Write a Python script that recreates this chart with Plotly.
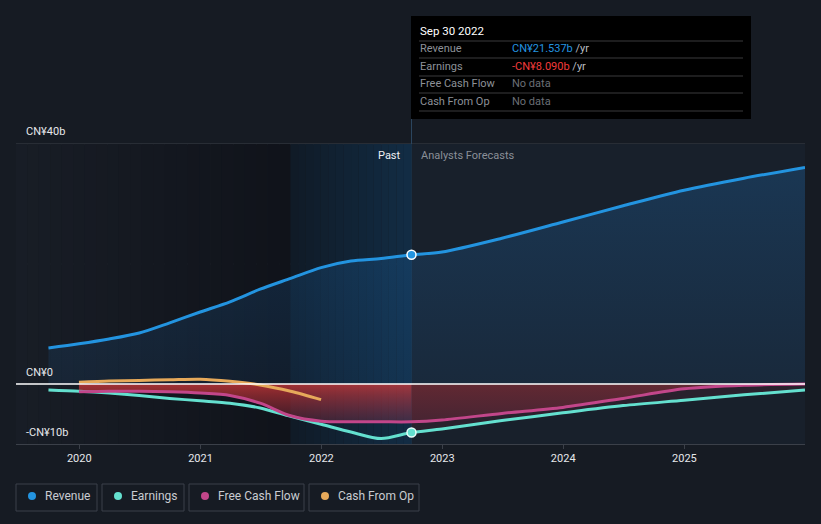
import plotly.graph_objects as go
import pandas as pd

# ---------------- data (CN¥ billions) ----------------
past_dates = ["2019-09-30", "2019-12-31", "2020-03-31", "2020-06-30", "2020-09-30",
              "2020-12-31", "2021-03-31", "2021-06-30", "2021-09-30", "2021-12-31",
              "2022-03-31", "2022-06-30", "2022-09-30"]
fc_dates = ["2022-09-30", "2022-12-31", "2023-06-30", "2023-12-31", "2024-06-30",
            "2024-12-31", "2025-06-30", "2025-12-31"]

revenue_past = [6.0, 6.7, 7.5, 8.5, 10.2, 12.0, 13.7, 15.8, 17.6, 19.4, 20.5, 20.9, 21.537]
revenue_fc = [21.537, 22.0, 24.3, 27.0, 29.7, 32.3, 34.3, 36.1]

earnings_past = [-1.0, -1.2, -1.5, -1.9, -2.4, -2.8, -3.2, -4.0, -5.4, -6.7, -8.0, -9.1, -8.09]
earnings_fc = [-8.09, -7.5, -6.1, -4.8, -3.6, -2.7, -1.8, -1.0]

fcf_past_dates = past_dates[1:]
fcf_past = [-1.3, -1.2, -1.2, -1.3, -1.5, -1.9, -3.2, -5.3, -6.2, -6.3, -6.3, -6.3]
fcf_fc = [-6.3, -6.0, -4.9, -3.9, -2.4, -0.8, -0.2, 0.0]

cfo_dates = past_dates[1:10]
cfo_vals = [0.3, 0.5, 0.6, 0.7, 0.8, 0.45, -0.15, -1.2, -2.6]

year_ticks = ["2020-01-01", "2021-01-01", "2022-01-01", "2023-01-01", "2024-01-01", "2025-01-01"]
year_labels = ["2020", "2021", "2022", "2023", "2024", "2025"]

tooltip_date = "Sep 30 2022"
tooltip_rows = [("Revenue", "CN¥21.537b", "#2394e0"),
                ("Earnings", "-CN¥8.090b", "#f23b3b"),
                ("Free Cash Flow", None, None),
                ("Cash From Op", None, None)]
legend_items = [("Revenue", "#2394e0"), ("Earnings", "#64e0cf"),
                ("Free Cash Flow", "#c2468a"), ("Cash From Op", "#e6a95a")]

C_REV, C_EARN, C_FCF, C_CFO = "#2394e0", "#64e0cf", "#c2468a", "#e6a95a"
FONT = "Roboto, 'Noto Sans', sans-serif"

W, H = 821, 524
ML, MR, MT, MB = 16, 16, 0, 80
PW, PH = W - ML - MR, H - MT - MB


def X(px):
    return (px - ML) / PW


def Y(py):
    return (H - MB - py) / PH


X_START, X_END = "2019-06-24", "2025-12-31"
PAST_SPLIT = "2021-09-30"
NOW = "2022-09-30"
SPL = dict(shape="spline", smoothing=0.8)

fig = go.Figure()

# revenue area fill
fig.add_trace(go.Scatter(
    x=past_dates + fc_dates[1:], y=revenue_past + revenue_fc[1:],
    mode="lines", line=dict(width=0, **SPL),
    fill="tozeroy",
    fillgradient=dict(type="vertical", start=0, stop=36,
                      colorscale=[[0, "rgba(33,125,210,0.10)"], [1, "rgba(33,135,225,0.22)"]]),
    hoverinfo="skip", showlegend=False))

# earnings fill (forecast only, faint red)
fig.add_trace(go.Scatter(
    x=fc_dates, y=earnings_fc,
    mode="lines", line=dict(width=0, **SPL),
    fill="tozeroy", fillcolor="rgba(200,50,70,0.10)",
    hoverinfo="skip", showlegend=False))

# FCF fill past (stronger, vertical gradient) and forecast
fig.add_trace(go.Scatter(
    x=fcf_past_dates, y=fcf_past,
    mode="lines", line=dict(width=0, **SPL),
    fill="tozeroy",
    fillgradient=dict(type="vertical", start=-6.3, stop=0,
                      colorscale=[[0, "rgba(190,50,75,0.25)"], [0.7, "rgba(215,55,60,0.55)"],
                                  [1, "rgba(225,60,60,0.70)"]]),
    hoverinfo="skip", showlegend=False))
fig.add_trace(go.Scatter(
    x=fc_dates, y=fcf_fc,
    mode="lines", line=dict(width=0, **SPL),
    fill="tozeroy",
    fillgradient=dict(type="vertical", start=-6.3, stop=0,
                      colorscale=[[0, "rgba(190,50,70,0.20)"], [1, "rgba(205,55,60,0.35)"]]),
    hoverinfo="skip", showlegend=False))

# lines
fig.add_trace(go.Scatter(
    x=past_dates + fc_dates[1:], y=revenue_past + revenue_fc[1:],
    mode="lines", line=dict(color=C_REV, width=3, **SPL),
    hoverinfo="skip", showlegend=False))
fig.add_trace(go.Scatter(
    x=past_dates + fc_dates[1:], y=earnings_past + earnings_fc[1:],
    mode="lines", line=dict(color=C_EARN, width=3, **SPL),
    hoverinfo="skip", showlegend=False))
fig.add_trace(go.Scatter(
    x=fcf_past_dates + fc_dates[1:], y=fcf_past + fcf_fc[1:],
    mode="lines", line=dict(color=C_FCF, width=3, **SPL),
    hoverinfo="skip", showlegend=False))
fig.add_trace(go.Scatter(
    x=cfo_dates, y=cfo_vals,
    mode="lines", line=dict(color=C_CFO, width=3, **SPL),
    hoverinfo="skip", showlegend=False))

# highlighted points
fig.add_trace(go.Scatter(
    x=[NOW], y=[revenue_past[-1]], mode="markers",
    marker=dict(size=9, color=C_REV, line=dict(color="#ffffff", width=1.5)),
    hoverinfo="skip", showlegend=False))
fig.add_trace(go.Scatter(
    x=[NOW], y=[earnings_past[-1]], mode="markers",
    marker=dict(size=9, color=C_EARN, line=dict(color="#e8fffb", width=1.5)),
    hoverinfo="skip", showlegend=False))

shapes = []
# forecast background
shapes.append(dict(type="rect", xref="x", yref="y", x0=NOW, x1=X_END, y0=-10, y1=40,
                   fillcolor="#18202b", line_width=0, layer="below"))


def lerp(c0, c1, t):
    return tuple(round(a + (b - a) * t) for a, b in zip(c0, c1))


# past dark gradient (stepped)
p0, p1 = pd.Timestamp(X_START), pd.Timestamp(PAST_SPLIT)
N = 24
for i in range(N):
    a = p0 + (p1 - p0) * i / N
    b = p0 + (p1 - p0) * (i + 1) / N
    c = lerp((24, 29, 38), (16, 19, 26), i / (N - 1))
    shapes.append(dict(type="rect", xref="x", yref="y", x0=a, x1=b, y0=-10, y1=40,
                       fillcolor="rgb(%d,%d,%d)" % c, line_width=0, layer="below"))
# highlight band (past year)
q0, q1 = pd.Timestamp(PAST_SPLIT), pd.Timestamp(NOW)
N = 16
for i in range(N):
    a = q0 + (q1 - q0) * i / N
    b = q0 + (q1 - q0) * (i + 1) / N
    c = lerp((16, 27, 39), (18, 44, 68), i / (N - 1))
    shapes.append(dict(type="rect", xref="x", yref="y", x0=a, x1=b, y0=-10, y1=40,
                       fillcolor="rgb(%d,%d,%d)" % c, line_width=0, layer="below"))

# grid lines
shapes.append(dict(type="line", xref="paper", yref="y", x0=0, x1=1, y0=40, y1=40,
                   line=dict(color="#3b4049", width=1), layer="below"))
shapes.append(dict(type="line", xref="paper", yref="y", x0=0, x1=1, y0=20, y1=20,
                   line=dict(color="#2f343d", width=1), layer="below"))
# zero line
shapes.append(dict(type="line", xref="paper", yref="y", x0=0, x1=1, y0=0, y1=0,
                   line=dict(color="#ffffff", width=1.5), layer="above"))

# vertical "now" line
shapes.append(dict(type="line", xref="x", yref="paper", x0=NOW, x1=NOW, y0=0, y1=Y(16),
                   line=dict(color="#2c4660", width=1), layer="below"))

# tooltip box
shapes.append(dict(type="rect", xref="paper", yref="paper", x0=X(411), x1=X(751), y0=Y(119), y1=Y(16),
                   fillcolor="#000000", line_width=0, layer="above"))
for py in [41, 58, 76, 93, 111]:
    shapes.append(dict(type="line", xref="paper", yref="paper", x0=X(419), x1=X(743), y0=Y(py), y1=Y(py),
                       line=dict(color="#3a3b3d", width=1), layer="above"))

# legend boxes
legend_boxes = [(16, 97), (102, 184), (189, 304), (309, 419)]
for (x0, x1), (name, col) in zip(legend_boxes, legend_items):
    shapes.append(dict(type="rect", xref="paper", yref="paper", x0=X(x0), x1=X(x1), y0=Y(511), y1=Y(484),
                       fillcolor="rgba(0,0,0,0)", line=dict(color="#3a404a", width=1)))
    shapes.append(dict(type="circle", xref="paper", yref="paper", x0=X(x0 + 12), x1=X(x0 + 20),
                       y0=Y(500), y1=Y(492), fillcolor=col, line_width=0))

annotations = []
# y labels
for txt, py in [("CN¥40b", 132), ("CN¥0", 372), ("-CN¥10b", 432)]:
    annotations.append(dict(xref="paper", yref="paper", x=X(24), y=Y(py), text=txt, showarrow=False,
                            xanchor="left", yanchor="middle", font=dict(family=FONT, size=11, color="#e6e8eb")))
annotations.append(dict(xref="paper", yref="paper", x=X(403), y=Y(156), text="Past", showarrow=False,
                        xanchor="right", yanchor="middle", font=dict(family=FONT, size=11, color="#eef0f2")))
annotations.append(dict(xref="paper", yref="paper", x=X(419), y=Y(156), text="Analysts Forecasts", showarrow=False,
                        xanchor="left", yanchor="middle", font=dict(family=FONT, size=11, color="#8a8f98")))
# tooltip text
annotations.append(dict(xref="paper", yref="paper", x=X(418), y=Y(31), text=tooltip_date, showarrow=False,
                        xanchor="left", yanchor="middle", font=dict(family=FONT, size=11.5, color="#ffffff")))
for (label, val, col), py in zip(tooltip_rows, [49, 66, 84, 101]):
    annotations.append(dict(xref="paper", yref="paper", x=X(418), y=Y(py), text=label, showarrow=False,
                            xanchor="left", yanchor="middle", font=dict(family=FONT, size=11, color="#8d9198")))
    if val is None:
        t = "No data"
        fc = "#6b6f76"
    else:
        t = "<span style='color:%s'>%s</span> /yr" % (col, val)
        fc = "#b9bcc1"
    annotations.append(dict(xref="paper", yref="paper", x=X(510), y=Y(py), text=t, showarrow=False,
                            xanchor="left", yanchor="middle", font=dict(family=FONT, size=11, color=fc)))
# legend text
for (x0, x1), (name, col) in zip(legend_boxes, legend_items):
    annotations.append(dict(xref="paper", yref="paper", x=X(x0 + 27), y=Y(496), text=name, showarrow=False,
                            xanchor="left", yanchor="middle", font=dict(family=FONT, size=12, color="#c9ccd1")))

fig.update_layout(
    width=W, height=H,
    margin=dict(l=ML, r=MR, t=MT, b=MB),
    paper_bgcolor="#161b23", plot_bgcolor="#161b23",
    showlegend=False,
    shapes=shapes, annotations=annotations,
    xaxis=dict(type="date", range=[X_START, X_END], tickvals=year_ticks, ticktext=year_labels,
               showgrid=False, zeroline=False, showline=True, linecolor="#3b4049", linewidth=1,
               ticks="outside", ticklen=4, tickcolor="#3b4049",
               tickfont=dict(family=FONT, size=11, color="#e6e8eb"), fixedrange=True),
    yaxis=dict(range=[-10, 64], showgrid=False, zeroline=False, showticklabels=False,
               showline=False, fixedrange=True),
)

fig.write_html("out.html")
